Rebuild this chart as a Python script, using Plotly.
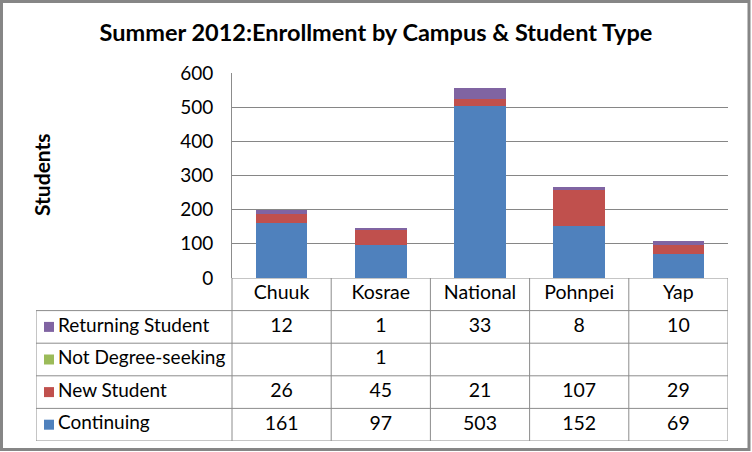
import plotly.graph_objects as go

#%% Data
campuses = ["Chuuk", "Kosrae", "National", "Pohnpei", "Yap"]
continuing = [161, 97, 503, 152, 69]
new_student = [26, 45, 21, 107, 29]
not_degree = [None, 1, None, None, None]
returning = [12, 1, 33, 8, 10]
y_ticks = [0, 100, 200, 300, 400, 500, 600]

#%% Series (bottom of stack first) and table rows (top row first)
series = [
    ("Continuing", continuing, "#4F81BD"),
    ("New Student", new_student, "#C0504D"),
    ("Not Degree-seeking", not_degree, "#9BBB59"),
    ("Returning Student", returning, "#8064A2"),
]
rows = series[::-1]

W, H = 752, 452
FONT = "Lato"
GRID = "#868686"
LINE = "#8C8C8C"
TXT = 19

# pixel layout of the Excel chart
plot_l, plot_r, plot_t, plot_b = 232, 728, 73, 278
tab_l, tab_b = 36, 441
col_w = (plot_r - plot_l) / len(campuses)
left_edge = -0.5 - (plot_l - tab_l) / col_w
n_rows = len(rows) + 1

fig = go.Figure()

for name, vals, color in series:
    fig.add_trace(go.Bar(x=list(range(len(campuses))), y=vals, name=name,
                         marker_color=color, width=0.52, showlegend=False,
                         xaxis="x", yaxis="y"))

# table: header row
fig.add_trace(go.Scatter(x=list(range(len(campuses))), y=[0.5] * len(campuses),
                         text=campuses, mode="text", textposition="middle center",
                         textfont=dict(family=FONT, size=TXT + 0.5, color="#000"),
                         showlegend=False, hoverinfo="skip",
                         xaxis="x2", yaxis="y2"))

# table: value rows with legend keys
for r, (name, vals, color) in enumerate(rows, start=1):
    fig.add_trace(go.Scatter(
        x=list(range(len(campuses))), y=[r + 0.5] * len(campuses),
        text=["" if v is None else str(v) for v in vals],
        mode="text", textposition="middle center",
        textfont=dict(family=FONT, size=TXT + 0.5, color="#000"),
        showlegend=False, hoverinfo="skip", xaxis="x2", yaxis="y2"))
    fig.add_trace(go.Scatter(
        x=[left_edge + 13 / col_w], y=[r + 0.5], mode="markers",
        marker=dict(symbol="square", size=10, color=color),
        showlegend=False, hoverinfo="skip", xaxis="x2", yaxis="y2"))
    fig.add_trace(go.Scatter(
        x=[left_edge + 22 / col_w], y=[r + 0.5], text=[name],
        mode="text", textposition="middle right",
        textfont=dict(family=FONT, size=TXT, color="#000"),
        showlegend=False, hoverinfo="skip", xaxis="x2", yaxis="y2"))

#%% Table grid lines
shapes = []
line = dict(color=LINE, width=1)
for i in range(len(campuses) + 1):
    xb = i - 0.5
    shapes.append(dict(type="line", xref="x2", yref="y2", x0=xb, x1=xb,
                       y0=0, y1=n_rows, line=line))
shapes.append(dict(type="line", xref="x2", yref="y2", x0=left_edge, x1=left_edge,
                   y0=1, y1=n_rows, line=line))
shapes.append(dict(type="line", xref="x2", yref="y2", x0=-0.5, x1=len(campuses) - 0.5,
                   y0=0, y1=0, line=line))
for k in range(1, n_rows + 1):
    shapes.append(dict(type="line", xref="x2", yref="y2", x0=left_edge,
                       x1=len(campuses) - 0.5, y0=k, y1=k, line=line))
# chart border
shapes.append(dict(type="rect", xref="paper", yref="paper",
                   x0=1.5 / W, x1=(W - 3) / W, y0=2.5 / H, y1=1 - 1.5 / H,
                   line=dict(color="#868686", width=3)))

fig.update_layout(
    template="none",
    width=W, height=H,
    margin=dict(l=0, r=0, t=0, b=0, pad=0, autoexpand=False),
    paper_bgcolor="white", plot_bgcolor="white",
    barmode="stack", bargap=0,
    font=dict(family=FONT, size=18, color="#000"),
    title=dict(text="<b>Summer 2012:Enrollment by Campus &amp; Student Type</b>",
               x=0.5, xanchor="center", y=1 - 33 / H, yanchor="middle",
               font=dict(family=FONT, size=23.5, color="#000")),
    xaxis=dict(domain=[plot_l / W, plot_r / W], range=[-0.5, len(campuses) - 0.5],
               showticklabels=False, showgrid=False, zeroline=False, anchor="y",
               automargin=False),
    yaxis=dict(domain=[1 - plot_b / H, 1 - plot_t / H], range=[0, 600],
               tickvals=y_ticks, showgrid=True, gridcolor=GRID, gridwidth=1,
               zeroline=False, showline=True, linecolor=LINE, linewidth=1,
               ticks="", ticklabelstandoff=14, automargin=False,
               tickfont=dict(family=FONT, size=19, color="#000"), anchor="x"),
    xaxis2=dict(domain=[tab_l / W, plot_r / W], range=[left_edge, len(campuses) - 0.5],
                visible=False, anchor="y2", automargin=False),
    yaxis2=dict(domain=[1 - tab_b / H, 1 - plot_b / H], range=[n_rows, 0],
                visible=False, anchor="x2", automargin=False),
    shapes=shapes,
    annotations=[dict(text="<b>Students</b>", xref="paper", yref="paper",
                      x=41 / W, y=1 - 175 / H, xanchor="center", yanchor="middle",
                      textangle=-90, showarrow=False,
                      font=dict(family=FONT, size=21, color="#000"))],
)

fig.write_html("out.html", config={"displayModeBar": False},
               post_script="document.body.style.margin='0';"
                           "document.body.style.overflow='hidden';")
